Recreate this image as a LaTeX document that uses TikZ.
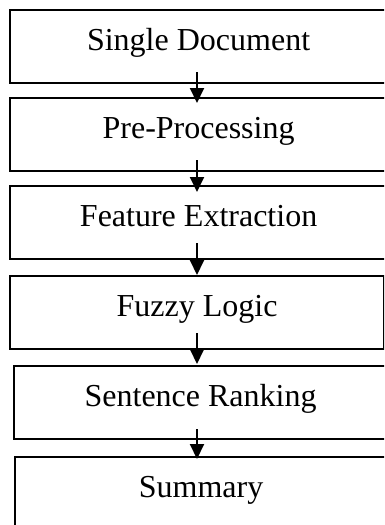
\documentclass[tikz,border=0pt]{standalone}
\usepackage{fontspec}
\setmainfont{Liberation Serif}
\usetikzlibrary{arrows.meta}

\begin{document}
\begin{tikzpicture}[x=1pt, y=1pt, blk/.style={draw, line width=2.2pt, rectangle, anchor=north west, inner sep=0pt, text height=40pt, text depth=33pt, font=\fontsize{32}{38}\selectfont}, n/.style={-{Triangle[length=15pt, width=14pt]}, line width=2pt}]
            \useasboundingbox (0,0) rectangle (384,-525);
            \clip (0,0) rectangle (384,-525);
            % nodes
            \node[blk, minimum width=377pt] (single) at (9,-9) {Single Document};
            \node[blk, minimum width=377pt] (pre) at (9,-97) {Pre-Processing};
            \node[blk, minimum width=377pt] (feature) at (9,-185) {Feature Extraction};
            \node[blk, minimum width=374pt] (fuzzy) at (9,-275) {Fuzzy Logic};
            \node[blk, minimum width=373pt] (rank) at (13,-365) {Sentence Ranking};
            \node[blk, minimum width=372pt, text depth=80pt] (summary) at (14,-456) {Summary};

            \coordinate (ax) at (197,0);
            % edges
            \draw [n] ([yshift=12pt]single.south -| ax) -- ([yshift=-6pt]pre.north -| ax);
            \draw [n] ([yshift=12pt]pre.south -| ax) -- ([yshift=-7pt]feature.north -| ax);
            \draw [n] ([yshift=17pt]feature.south -| ax) -- (fuzzy.north -| ax);
            \draw [n] ([yshift=17pt]fuzzy.south -| ax) -- ([yshift=1pt]rank.north -| ax);
            \draw [n] ([yshift=11pt]rank.south -| ax) -- ([yshift=-3pt]summary.north -| ax);
        \end{tikzpicture}
\end{document}
